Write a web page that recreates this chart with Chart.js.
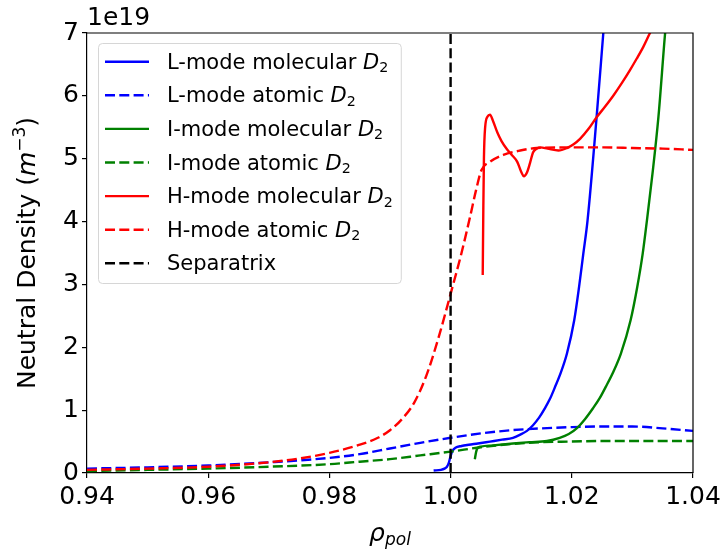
<!DOCTYPE html>
<html>
<head>
<meta charset="utf-8">
<script src="https://cdn.jsdelivr.net/npm/chart.js@4.4.1/dist/chart.umd.min.js"></script>
<style>
  html, body { margin: 0; padding: 0; background: #fff; }
  #wrap { width: 725px; height: 552px; }
</style>
</head>
<body>
<div id="wrap"><canvas id="chart" width="725" height="552"></canvas></div>
<script>
(function () {
  "use strict";

  // ---- data (values in units of 1e19 m^-3) ----
  var lMolX = [0.9972, 0.9984, 0.9990, 0.9994, 0.9997, 1.0000, 1.0003, 1.0008, 1.0018, 1.0030, 1.0045, 1.0065, 1.0085, 1.0103, 1.0115, 1.0126, 1.0136, 1.0146, 1.0155, 1.0164, 1.0172, 1.0182, 1.0192, 1.0204, 1.0212, 1.0219, 1.0226, 1.0241, 1.0252, 1.0262];
  var lMolY = [0.04, 0.05, 0.07, 0.10, 0.16, 0.27, 0.35, 0.40, 0.43, 0.45, 0.47, 0.50, 0.53, 0.56, 0.61, 0.67, 0.76, 0.88, 1.02, 1.18, 1.36, 1.60, 1.90, 2.43, 2.96, 3.49, 4.02, 5.67, 7.00, 8.20];

  var lAtomX = [0.94, 0.95, 0.96, 0.97, 0.98, 0.985, 0.99, 0.995, 1.00, 1.005, 1.01, 1.015, 1.02, 1.025, 1.03, 1.035, 1.04];
  var lAtomY = [0.07, 0.09, 0.12, 0.17, 0.24, 0.30, 0.39, 0.48, 0.56, 0.63, 0.68, 0.71, 0.73, 0.74, 0.74, 0.71, 0.67];

  var iMolX = [1.0040, 1.0042, 1.0044, 1.0050, 1.0070, 1.0103, 1.0130, 1.0159, 1.0180, 1.0195, 1.0208, 1.0222, 1.0235, 1.0246, 1.0256, 1.0269, 1.0281, 1.0297, 1.0308, 1.0317, 1.0324, 1.0333, 1.0343, 1.0354, 1.0362];
  var iMolY = [0.22, 0.33, 0.39, 0.42, 0.44, 0.47, 0.49, 0.51, 0.56, 0.62, 0.71, 0.86, 1.03, 1.19, 1.37, 1.62, 1.90, 2.43, 2.96, 3.49, 4.02, 4.75, 5.67, 7.00, 7.80];

  var iAtomX = [0.94, 0.95, 0.96, 0.97, 0.98, 0.985, 0.99, 0.995, 1.00, 1.005, 1.01, 1.015, 1.02, 1.025, 1.03, 1.035, 1.04];
  var iAtomY = [0.03, 0.05, 0.07, 0.10, 0.14, 0.18, 0.22, 0.28, 0.34, 0.41, 0.46, 0.49, 0.50, 0.51, 0.51, 0.51, 0.51];

  var hMolX = [1.0053, 1.0054, 1.0055, 1.0057, 1.0061, 1.0065, 1.0070, 1.0077, 1.0084, 1.0093, 1.0101, 1.0110, 1.0117, 1.0121, 1.0126, 1.0131, 1.0136, 1.0142, 1.0148, 1.0160, 1.0178, 1.0192, 1.0203, 1.0214, 1.0228, 1.0241, 1.0255, 1.0269, 1.0283, 1.0296, 1.0307, 1.0318, 1.0329, 1.0340];
  var hMolY = [3.15, 4.20, 5.00, 5.50, 5.67, 5.70, 5.60, 5.42, 5.28, 5.15, 5.06, 4.95, 4.78, 4.72, 4.78, 4.93, 5.10, 5.16, 5.18, 5.16, 5.13, 5.17, 5.23, 5.32, 5.48, 5.66, 5.83, 6.01, 6.21, 6.41, 6.59, 6.78, 7.00, 7.20];

  var hAtomX = [0.94, 0.95, 0.96, 0.97, 0.975, 0.98, 0.985, 0.988, 0.99, 0.992, 0.994, 0.996, 0.998, 1.00, 1.0018, 1.0032, 1.0042, 1.0051, 1.0065, 1.0087, 1.0115, 1.0142, 1.02, 1.0252, 1.03, 1.035, 1.04];
  var hAtomY = [0.05, 0.07, 0.10, 0.17, 0.23, 0.32, 0.45, 0.56, 0.68, 0.86, 1.12, 1.55, 2.15, 2.85, 3.50, 4.07, 4.50, 4.82, 4.95, 5.06, 5.13, 5.17, 5.18, 5.18, 5.17, 5.16, 5.14];

  var sepX = [1.00, 1.00];
  var sepY = [0, 7];

  var xTickValues = [0.94, 0.96, 0.98, 1.00, 1.02, 1.04];
  var xTickLabels = ["0.94", "0.96", "0.98", "1.00", "1.02", "1.04"];
  var yTickValues = [0, 1, 2, 3, 4, 5, 6, 7];
  var yTickLabels = ["0", "1", "2", "3", "4", "5", "6", "7"];

  var seriesNames = ["L-mode molecular", "L-mode atomic", "I-mode molecular", "I-mode atomic",
                     "H-mode molecular", "H-mode atomic", "Separatrix"];

  var FONT = "'DejaVu Sans', sans-serif";
  var DASH = [10, 4.3];

  function pts(xs, ys) {
    var out = [];
    for (var i = 0; i < xs.length; i++) out.push({ x: xs[i], y: ys[i] });
    return out;
  }

  function line(i, xs, ys, color, dashed, curved) {
    return {
      label: seriesNames[i], data: pts(xs, ys), borderColor: color,
      borderWidth: 2.4, borderDash: dashed ? DASH : [], pointRadius: 0,
      fill: false, cubicInterpolationMode: curved ? "monotone" : "default",
      tension: 0, order: 10 - i
    };
  }

  // draw text with italic / sub / superscript pieces, like matplotlib mathtext
  function partFont(p, size) {
    var s = (p.sub || p.sup) ? size * 0.68 : size;
    return (p.it ? "italic " : "") + s + "px " + FONT;
  }
  function partsWidth(ctx, parts, size) {
    var w = 0;
    for (var i = 0; i < parts.length; i++) { ctx.font = partFont(parts[i], size); w += ctx.measureText(parts[i].t).width; }
    return w;
  }
  function drawParts(ctx, parts, x, y, size) {
    ctx.textAlign = "left";
    ctx.textBaseline = "alphabetic";
    for (var i = 0; i < parts.length; i++) {
      var p = parts[i];
      ctx.font = partFont(p, size);
      var dy = p.sub ? size * 0.17 : (p.sup ? -size * 0.42 : 0);
      ctx.fillText(p.t, x, y + dy);
      x += ctx.measureText(p.t).width;
    }
    return x;
  }

  var decorations = {
    id: "decorations",
    afterDraw: function (chart) {
      var ctx = chart.ctx, a = chart.chartArea;
      ctx.save();
      ctx.fillStyle = "#000";

      // top and right spines
      ctx.strokeStyle = "#000";
      ctx.lineWidth = 1.2;
      ctx.beginPath();
      ctx.moveTo(a.left, a.top); ctx.lineTo(a.right, a.top); ctx.lineTo(a.right, a.bottom);
      ctx.stroke();

      // offset text
      ctx.font = "25px " + FONT;
      ctx.textAlign = "left";
      ctx.textBaseline = "alphabetic";
      ctx.fillText("1e19", a.left, 25);

      // x label
      var xl = [{ t: "ρ", it: true }, { t: "pol", it: true, sub: true }];
      drawParts(ctx, xl, (a.left + a.right) / 2 - partsWidth(ctx, xl, 25) / 2, 541, 25);

      // y label
      var yl = [{ t: "Neutral Density (" }, { t: "m", it: true }, { t: "−3", sup: true }, { t: ")" }];
      ctx.save();
      ctx.translate(35, (a.top + a.bottom) / 2);
      ctx.rotate(-Math.PI / 2);
      drawParts(ctx, yl, -partsWidth(ctx, yl, 25) / 2, 0, 25);
      ctx.restore();

      // legend
      var ds = chart.data.datasets;
      var size = 21, maxW = 0, labels = [];
      for (var i = 0; i < ds.length; i++) {
        var parts = [{ t: ds[i].label }];
        if (i < 6) parts = [{ t: ds[i].label + " " }, { t: "D", it: true }, { t: "2", sub: true }];
        labels.push(parts);
        maxW = Math.max(maxW, partsWidth(ctx, parts, size));
      }
      var bx = 98, by = 43, bw = 167 - bx + maxW + 8, bh = 240;
      ctx.fillStyle = "rgba(255,255,255,0.8)";
      ctx.strokeStyle = "#d6d6d6";
      ctx.lineWidth = 1;
      ctx.beginPath();
      ctx.roundRect(bx + 0.5, by + 0.5, bw, bh, 4);
      ctx.fill();
      ctx.stroke();
      for (i = 0; i < ds.length; i++) {
        var yy = 61.7 + i * 33.6;
        ctx.strokeStyle = ds[i].borderColor;
        ctx.lineWidth = 2.4;
        ctx.setLineDash(ds[i].borderDash || []);
        ctx.beginPath();
        ctx.moveTo(105, yy); ctx.lineTo(149, yy);
        ctx.stroke();
        ctx.setLineDash([]);
        ctx.fillStyle = "#000";
        drawParts(ctx, labels[i], 167, yy + 7, size);
      }
      ctx.restore();
    }
  };

  var tickFont = { family: FONT, size: 25 };

  new Chart(document.getElementById("chart"), {
    type: "line",
    data: {
      datasets: [
        line(0, lMolX, lMolY, "#0000ff", false, true),
        line(1, lAtomX, lAtomY, "#0000ff", true, true),
        line(2, iMolX, iMolY, "#008000", false, true),
        line(3, iAtomX, iAtomY, "#008000", true, true),
        line(4, hMolX, hMolY, "#ff0000", false, true),
        line(5, hAtomX, hAtomY, "#ff0000", true, true),
        line(6, sepX, sepY, "#000000", true, false)
      ]
    },
    options: {
      responsive: false,
      animation: false,
      devicePixelRatio: 1,
      layout: { padding: { top: 33, right: 32, left: 0, bottom: 0 } },
      plugins: { legend: { display: false }, tooltip: { enabled: false } },
      scales: {
        x: {
          type: "linear", min: 0.94, max: 1.04,
          afterBuildTicks: function (s) { s.ticks = xTickValues.map(function (v) { return { value: v }; }); },
          afterFit: function (s) { s.height = 79; },
          ticks: {
            autoSkip: false, maxRotation: 0, color: "#000", font: tickFont, padding: 4,
            callback: function (v) { var k = xTickValues.indexOf(v); return k >= 0 ? xTickLabels[k] : ""; }
          },
          grid: { drawOnChartArea: false, drawTicks: true, tickLength: 5, color: "#000", lineWidth: 1.2 },
          border: { color: "#000", width: 1.2 }
        },
        y: {
          type: "linear", min: 0, max: 7,
          afterBuildTicks: function (s) { s.ticks = yTickValues.map(function (v) { return { value: v }; }); },
          afterFit: function (s) { s.width = 87; },
          ticks: {
            autoSkip: false, color: "#000", font: tickFont, padding: 3,
            callback: function (v) { var k = yTickValues.indexOf(v); return k >= 0 ? yTickLabels[k] : ""; }
          },
          grid: { drawOnChartArea: false, drawTicks: true, tickLength: 5, color: "#000", lineWidth: 1.2 },
          border: { color: "#000", width: 1.2 }
        }
      }
    },
    plugins: [decorations]
  });
})();
</script>
</body>
</html>
